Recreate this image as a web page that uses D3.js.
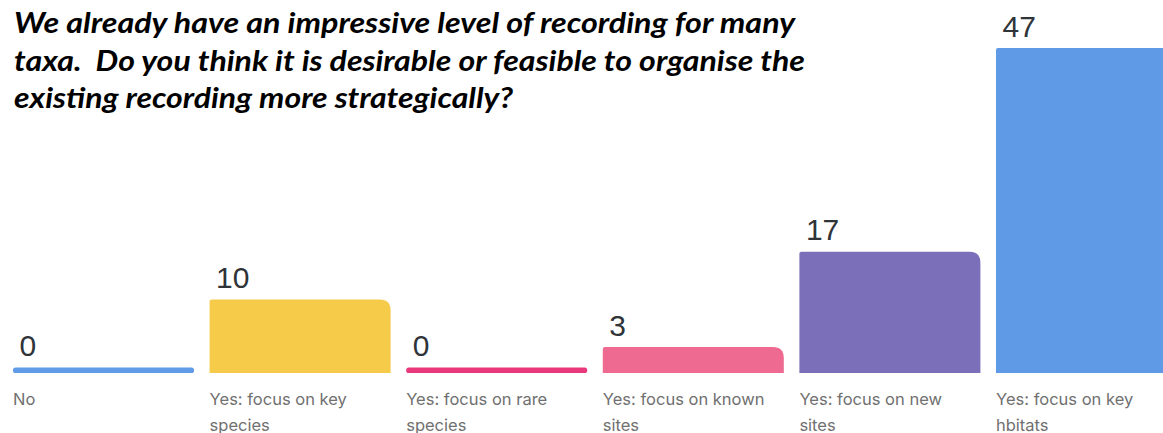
<!DOCTYPE html>
<html>
<head>
<meta charset="utf-8">
<script src="https://cdn.jsdelivr.net/npm/d3@7"></script>
<style>
  body { margin: 0; background: #fff; overflow: hidden; }
  svg { display: block; }
</style>
</head>
<body>
<svg id="chart"></svg>
<script>
// chart data
const titleLines = [
  "We already have an impressive level of recording for many",
  "taxa.  Do you think it is desirable or feasible to organise the",
  "existing recording more strategically?"
];
const categories = [
  "No",
  "Yes: focus on key\nspecies",
  "Yes: focus on rare\nspecies",
  "Yes: focus on known\nsites",
  "Yes: focus on new\nsites",
  "Yes: focus on key\nhbitats"
];
const values = [0, 10, 0, 3, 17, 47];
const colors = ["#5f9be7", "#f7cb4a", "#e9387c", "#ee6a90", "#7b6fb9", "#5f9ae7"];

const width = 1163, height = 433;
const baseline = 373;

const svg = d3.select("#chart")
  .attr("width", width)
  .attr("height", height);

// title (bold italic, stretched to the width the original lines take)
const titleWidths = [781, 791, 499];
svg.append("g")
  .selectAll("text")
  .data(titleLines)
  .enter()
  .append("text")
  .attr("x", 14)
  .attr("y", (d, i) => 33 + i * 37.5)
  .attr("textLength", (d, i) => titleWidths[i])
  .attr("lengthAdjust", "spacingAndGlyphs")
  .style("white-space", "pre")
  .style("font-family", "Lato, 'Open Sans', sans-serif")
  .style("font-weight", "bold")
  .style("font-style", "italic")
  .style("font-size", "28px")
  .style("fill", "#000")
  .text(d => d);

// scales
const x = d3.scaleBand()
  .domain(categories)
  .range([13, 1177])
  .paddingInner(0.0793)
  .paddingOuter(0);

// a zero still gets a thin 5px stub
const y = d3.scaleLinear()
  .domain([0, 47])
  .range([baseline - 5.6, 48]);

function barPath(x0, y0, w, h, rl, rr) {
  return `M${x0},${y0 + h}` +
    `V${y0 + rl}Q${x0},${y0} ${x0 + rl},${y0}` +
    `H${x0 + w - rr}Q${x0 + w},${y0} ${x0 + w},${y0 + rr}` +
    `V${y0 + h}Z`;
}

const bars = svg.append("g");

categories.forEach((c, i) => {
  const v = values[i];
  const x0 = x(c);
  const top = y(v);
  if (v === 0) {
    bars.append("rect")
      .attr("x", x0)
      .attr("y", top)
      .attr("width", x.bandwidth())
      .attr("height", baseline - top)
      .attr("rx", 2.6)
      .style("fill", colors[i]);
  } else {
    const h = baseline - top;
    const rr = Math.min(11, h / 2);
    bars.append("path")
      .attr("d", barPath(x0, top, x.bandwidth(), h, 2, rr))
      .style("fill", colors[i]);
  }
});

// value labels
svg.append("g")
  .selectAll("text")
  .data(values)
  .enter()
  .append("text")
  .attr("x", (d, i) => x(categories[i]) + 6.5)
  .attr("y", d => y(d) - 11.5)
  .style("font-family", "'Liberation Sans', Arial, sans-serif")
  .style("font-size", "30px")
  .style("fill", "#2f3439")
  .text(d => d);

// category labels
const labels = svg.append("g")
  .selectAll("text")
  .data(categories)
  .enter()
  .append("text")
  .attr("x", d => x(d))
  .attr("y", 405)
  .style("font-family", "Inter, 'Noto Sans', sans-serif")
  .style("font-size", "16.5px")
  .style("fill", "#707070");

labels.selectAll("tspan")
  .data(d => d.split("\n"))
  .enter()
  .append("tspan")
  .attr("x", function () { return d3.select(this.parentNode).attr("x"); })
  .attr("dy", (d, i) => i === 0 ? 0 : 26)
  .text(d => d);
</script>
</body>
</html>
